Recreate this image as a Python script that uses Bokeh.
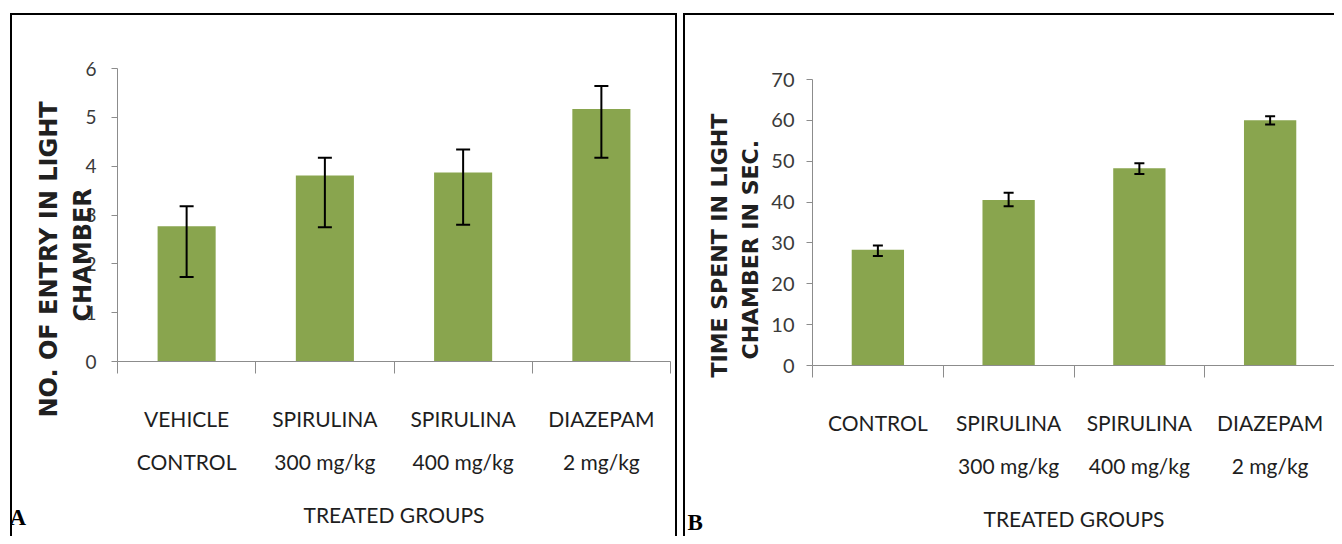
from bokeh.plotting import figure
from bokeh.models import (Range1d, LinearAxis, FixedTicker, Whisker, ColumnDataSource,
                          Title, TeeHead)
from bokeh.embed import file_html
from bokeh.resources import INLINE

# ---------------- data ----------------
groups_a = ["VEHICLE\nCONTROL", "SPIRULINA\n300 mg/kg", "SPIRULINA\n400 mg/kg", "DIAZEPAM\n2 mg/kg"]
means_a = [2.77, 3.81, 3.87, 5.17]
err_upper_a = [3.18, 4.17, 4.34, 5.64]
err_lower_a = [1.73, 2.75, 2.80, 4.17]
yticks_a = [0, 1, 2, 3, 4, 5, 6]
ytitle_a = ["NO. OF ENTRY IN LIGHT", "CHAMBER"]

groups_b = ["CONTROL", "SPIRULINA\n300 mg/kg", "SPIRULINA\n400 mg/kg", "DIAZEPAM\n2 mg/kg"]
means_b = [28.3, 40.5, 48.3, 60.0]
err_upper_b = [29.4, 42.3, 49.5, 61.0]
err_lower_b = [26.8, 39.0, 46.9, 59.0]
yticks_b = [0, 10, 20, 30, 40, 50, 60, 70]
ytitle_b = ["TIME SPENT IN LIGHT", "CHAMBER IN SEC."]

xtitle = "TREATED GROUPS"
panel_letters = ["A", "B"]

GREEN = "#89A54E"
GRAY = "#8C8C8C"
TICK_FONT = "Lato"
BORDER = "2px solid black"


def make_panel(groups, means, lo, hi, yticks, ytitle, letter, cfg):
    n = len(groups)
    centers = [i + 0.5 for i in range(n)]      # category slot centres
    edges = list(range(n + 1))                  # category slot boundaries
    src = ColumnDataSource(dict(x=centers, m=means, lo=lo, hi=hi))
    p = figure(width=cfg["W"], height=cfg["H"],
               x_range=Range1d(0, n), y_range=Range1d(yticks[0], yticks[-1]),
               output_backend="svg", toolbar_location=None,
               x_axis_location=None, y_axis_location="left",
               min_border_left=cfg["L"], min_border_right=cfg["R"],
               min_border_top=cfg["T"], min_border_bottom=cfg["B"],
               styles=cfg["styles"])
    p.outline_line_color = None
    p.grid.visible = False
    p.background_fill_color = "white"
    p.border_fill_color = "white"

    p.vbar(x="x", top="m", width=cfg["bw"], source=src, fill_color=GREEN, line_color=None)
    w = Whisker(base="x", upper="hi", lower="lo", source=src, level="overlay",
                line_color="black", line_width=2,
                upper_head=TeeHead(size=cfg["cap"], line_width=2, line_color="black"),
                lower_head=TeeHead(size=cfg["cap"], line_width=2, line_color="black"))
    p.add_layout(w)

    # y axis
    ya = p.yaxis[0]
    ya.ticker = FixedTicker(ticks=yticks)
    ya.axis_line_color = GRAY
    ya.major_tick_line_color = GRAY
    ya.major_tick_out = 6
    ya.major_tick_in = 0
    ya.minor_tick_line_color = None
    ya.major_label_standoff = cfg["ystand"]
    ya.major_label_text_font = TICK_FONT
    ya.major_label_text_font_size = cfg["yfs"]
    ya.major_label_text_color = "#3a3a3a"

    # y title: two rotated lines (inner line first)
    for txt, fs, off, st in reversed(list(zip(ytitle, cfg["ytfs"], cfg["ytoff"], cfg["ytst"]))):
        p.add_layout(Title(text=txt, align="left", vertical_align="bottom", offset=off, standoff=st,
                           text_font="DejaVu Sans", text_font_style="bold",
                           text_font_size=fs, text_color="#202020"), "left")

    # x axis: category labels at slot centres, ticks at slot boundaries
    ca = LinearAxis(ticker=FixedTicker(ticks=centers, minor_ticks=edges),
                    major_label_overrides={c: g for c, g in zip(centers, groups)})
    ca.axis_line_color = GRAY
    ca.major_tick_line_color = None
    ca.major_tick_out = 0
    ca.major_tick_in = 0
    ca.minor_tick_line_color = GRAY
    ca.minor_tick_out = 12
    ca.minor_tick_in = 0
    ca.major_label_standoff = cfg["xstand"]
    ca.major_label_text_font = TICK_FONT
    ca.major_label_text_font_size = "21px"
    ca.major_label_text_line_height = 1.75
    ca.major_label_text_color = "#1e1e1e"
    ca.axis_label = xtitle
    ca.axis_label_text_font = TICK_FONT
    ca.axis_label_text_font_style = "normal"
    ca.axis_label_text_font_size = "21px"
    ca.axis_label_text_color = "#1e1e1e"
    ca.axis_label_standoff = cfg["tstand"]
    p.add_layout(ca, "below")

    # panel letter
    p.add_layout(Title(text=letter, align="left", vertical_align="top",
                       offset=cfg["letoff"], standoff=cfg["letstand"],
                       text_font="Liberation Serif", text_font_style="bold",
                       text_font_size="23px", text_color="black"), "below")
    return p


cfg_a = dict(W=663, H=521, L=105, R=9, T=53, B=177, bw=0.42, cap=14, ystand=15, yfs="19px",
             ytfs=["24px", "24px"], ytoff=[-56, 40], ytst=[36, -28],
             xstand=32, tstand=25, letoff=-108, letstand=-52,
             styles={"position": "absolute", "left": "10px", "top": "13px",
                     "box-sizing": "content-box",
                     "border-top": BORDER, "border-left": BORDER, "border-right": BORDER})
cfg_b = dict(W=649, H=521, L=127, R=1, T=64, B=173, bw=0.40, cap=10, ystand=12, yfs="20px",
             ytfs=["22px", "22px"], ytoff=[-12, 6], ytst=[-5, 12],
             xstand=32, tstand=25, letoff=-125, letstand=-50,
             styles={"position": "absolute", "left": "683px", "top": "13px",
                     "box-sizing": "content-box",
                     "border-top": BORDER, "border-left": BORDER})

pa = make_panel(groups_a, means_a, err_lower_a, err_upper_a, yticks_a, ytitle_a, panel_letters[0], cfg_a)
pb = make_panel(groups_b, means_b, err_lower_b, err_upper_b, yticks_b, ytitle_b, panel_letters[1], cfg_b)

open("out.html", "w").write(file_html([pa, pb], INLINE))
